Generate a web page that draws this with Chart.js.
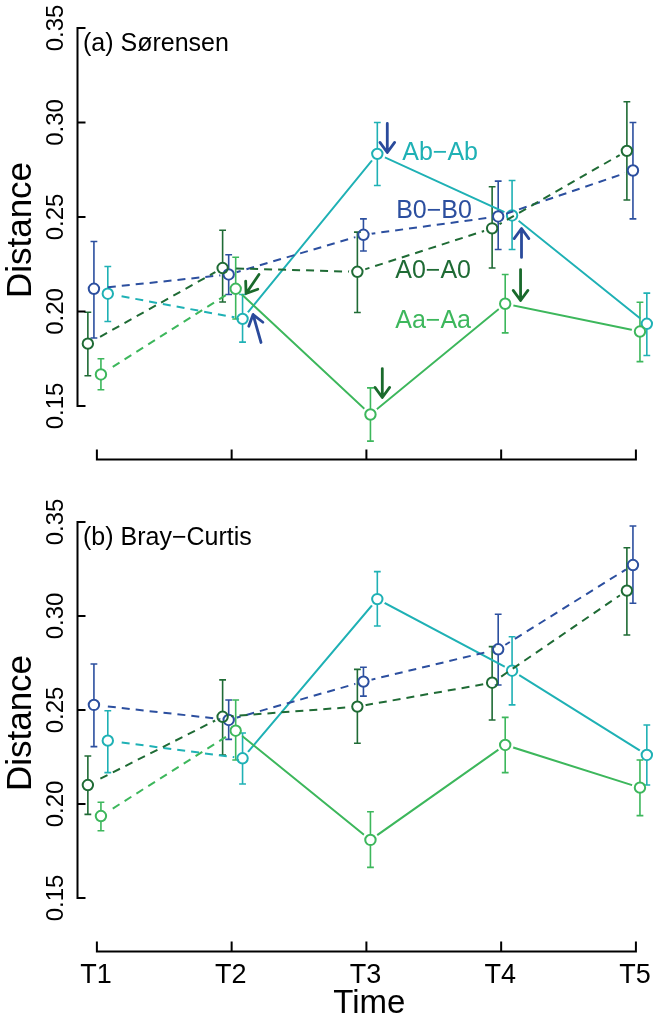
<!DOCTYPE html>
<html>
<head>
<meta charset="utf-8">
<script src="https://cdn.jsdelivr.net/npm/chart.js@4.4.1/dist/chart.umd.min.js"></script>
<style>
  html, body { margin: 0; padding: 0; background: #ffffff; }
  #wrap { position: relative; width: 664px; height: 1028px; }
  canvas { position: absolute; left: 0; }
  #cA { top: 0; }
  #cB { top: 494px; }
</style>
</head>
<body>
<div id="wrap">
  <canvas id="cA" width="664" height="494"></canvas>
  <canvas id="cB" width="664" height="534"></canvas>
</div>
<script>
// ---------------- data ----------------
const categories = ['T1', 'T2', 'T3', 'T4', 'T5'];
const yTickValues = [0.15, 0.20, 0.25, 0.30, 0.35];
const yTickLabels = ['0.15', '0.20', '0.25', '0.30', '0.35'];
const seriesNames = ['A0\u2212A0', 'B0\u2212B0', 'Aa\u2212Aa', 'Ab\u2212Ab'];

// (a) Sørensen
const sorA0 = [0.183, 0.223, 0.221, 0.244, 0.285];
const sorA0Lo = [0.166, 0.205, 0.1995, 0.223, 0.259];
const sorA0Hi = [0.1996, 0.243, 0.242, 0.266, 0.311];
const sorB0 = [0.212, 0.2196, 0.2406, 0.2503, 0.2746];
const sorB0Lo = [0.186, 0.209, 0.232, 0.2328, 0.249];
const sorB0Hi = [0.237, 0.230, 0.249, 0.269, 0.300];
const sorAa = [0.1667, 0.212, 0.1455, 0.2041, 0.1894];
const sorAaLo = [0.1586, 0.196, 0.1314, 0.1887, 0.1735];
const sorAaHi = [0.175, 0.2287, 0.1596, 0.2196, 0.2049];
const sorAb = [0.2094, 0.1961, 0.2834, 0.2508, 0.1935];
const sorAbLo = [0.1947, 0.1838, 0.2667, 0.2328, 0.1767];
const sorAbHi = [0.2238, 0.209, 0.300, 0.2693, 0.2097];

// (b) Bray-Curtis
const bcA0 = [0.2101, 0.2464, 0.2518, 0.2645, 0.3135];
const bcA0Lo = [0.1945, 0.226, 0.2323, 0.2447, 0.2899];
const bcA0Hi = [0.2255, 0.266, 0.2716, 0.2837, 0.3363];
const bcB0 = [0.2527, 0.2447, 0.2651, 0.2823, 0.3271];
const bcB0Lo = [0.2305, 0.2344, 0.2574, 0.2633, 0.3068];
const bcB0Hi = [0.2745, 0.2553, 0.2727, 0.3009, 0.3479];
const bcAa = [0.1936, 0.239, 0.1809, 0.2314, 0.2087];
const bcAaLo = [0.1858, 0.2234, 0.1663, 0.2167, 0.1938];
const bcAaHi = [0.2009, 0.2553, 0.1959, 0.2461, 0.2234];
const bcAb = [0.2337, 0.2243, 0.309, 0.2709, 0.2261];
const bcAbLo = [0.2167, 0.2106, 0.2947, 0.2527, 0.2101];
const bcAbHi = [0.2496, 0.2378, 0.3236, 0.289, 0.242];

// ---------------- style ----------------
const COL = { A0: '#1f6b35', B0: '#2c4f9f', Aa: '#3db75c', Ab: '#1fb1b5' };
const ARROW_BLUE = '#2a4a9b';
const ARROW_GREEN = '#1a6a2c';
const JITTER = { A0: -0.067, B0: -0.022, Aa: 0.030, Ab: 0.081 };
const DASH = [8, 6];
const FONT = '"Liberation Sans", Arial, Helvetica, sans-serif';
const PT_R = 5.2;
const GAP_R = 8.5;
const Y_MIN = 0.12, Y_MAX = 0.35;

function pts(key, means) {
  return means.map((v, i) => ({ x: i + 1 + JITTER[key], y: v }));
}

// each series: one line dataset (with R-style gaps at the points) + one point dataset
function makeSeries(key, label, means, lo, hi, allDashed) {
  const line = {
    label: label,
    data: pts(key, means),
    gapLine: true,
    borderColor: COL[key],
    borderWidth: 2,
    borderDash: allDashed ? DASH : [],
    segment: allDashed ? undefined : { borderDash: c => (c.p0DataIndex === 0 ? DASH : undefined) },
    pointRadius: 0,
    fill: false,
    tension: 0,
    clip: false
  };
  const points = {
    label: label + ' points',
    data: pts(key, means),
    errLo: lo, errHi: hi,
    showLine: false,
    borderColor: COL[key],
    pointRadius: PT_R,
    pointBorderWidth: 2,
    pointBackgroundColor: 'rgba(255,255,255,0)',
    pointBorderColor: COL[key],
    clip: false
  };
  return [line, points];
}

// error bars (drawn through the chart scales) and gap clipping for the lines
const errorBarPlugin = {
  id: 'errbars',
  beforeDatasetsDraw(chart) {
    const ctx = chart.ctx, xs = chart.scales.x, ys = chart.scales.y;
    chart.data.datasets.forEach(ds => {
      if (!ds.errLo) return;
      ctx.save();
      ctx.strokeStyle = ds.borderColor;
      ctx.lineWidth = 1.6;
      ds.data.forEach((p, i) => {
        const x = xs.getPixelForValue(p.x);
        const yc = ys.getPixelForValue(p.y);
        const y1 = ys.getPixelForValue(ds.errLo[i]);
        const y2 = ys.getPixelForValue(ds.errHi[i]);
        ctx.beginPath();
        ctx.moveTo(x, y1); ctx.lineTo(x, yc + PT_R);
        ctx.moveTo(x, yc - PT_R); ctx.lineTo(x, y2);
        ctx.moveTo(x - 3.4, y1); ctx.lineTo(x + 3.4, y1);
        ctx.moveTo(x - 3.4, y2); ctx.lineTo(x + 3.4, y2);
        ctx.stroke();
      });
      ctx.restore();
    });
  },
  beforeDatasetDraw(chart, args) {
    const ds = chart.data.datasets[args.index];
    if (!ds.gapLine) return;
    const ctx = chart.ctx, xs = chart.scales.x, ys = chart.scales.y;
    ctx.save();
    ctx.beginPath();
    ctx.rect(0, 0, chart.width, chart.height);
    ds.data.forEach(p => {
      const x = xs.getPixelForValue(p.x), y = ys.getPixelForValue(p.y);
      ctx.moveTo(x + GAP_R, y);
      ctx.arc(x, y, GAP_R, 0, Math.PI * 2);
    });
    ctx.clip('evenodd');
  },
  afterDatasetDraw(chart, args) {
    const ds = chart.data.datasets[args.index];
    if (ds.gapLine) chart.ctx.restore();
  }
};

// R-style axes drawn from the scales
function axesPlugin(opts) {
  return {
    id: 'raxes',
    afterDraw(chart) {
      const ctx = chart.ctx, xs = chart.scales.x, ys = chart.scales.y;
      ctx.save();
      ctx.strokeStyle = '#000';
      ctx.fillStyle = '#000';
      ctx.lineWidth = 2;
      ctx.lineCap = 'butt';
      // y axis
      const ax = chart.chartArea.left + 0.5;
      const yTop = ys.getPixelForValue(yTickValues[yTickValues.length - 1]);
      const yBot = ys.getPixelForValue(yTickValues[0]);
      ctx.beginPath();
      ctx.moveTo(ax, yTop - 1); ctx.lineTo(ax, yBot + 1);
      yTickValues.forEach(v => {
        const y = ys.getPixelForValue(v);
        ctx.moveTo(ax, y); ctx.lineTo(ax + 8, y);
      });
      ctx.stroke();
      ctx.font = '24px ' + FONT;
      ctx.textAlign = 'center';
      ctx.textBaseline = 'alphabetic';
      yTickValues.forEach((v, i) => {
        const y = ys.getPixelForValue(v);
        ctx.save();
        ctx.translate(63, y);
        ctx.rotate(-Math.PI / 2);
        ctx.fillText(yTickLabels[i], 0, 0);
        ctx.restore();
      });
      // y title
      ctx.save();
      ctx.font = '35px ' + FONT;
      ctx.translate(31, (yTop + yBot) / 2 + 13);
      ctx.rotate(-Math.PI / 2);
      ctx.fillText('Distance', 0, 0);
      ctx.restore();
      // x axis
      const lineY = yBot + 53.5;
      const x1 = xs.getPixelForValue(1), x5 = xs.getPixelForValue(categories.length);
      ctx.beginPath();
      ctx.moveTo(x1 - 1, lineY); ctx.lineTo(x5 + 1, lineY);
      categories.forEach((c, i) => {
        const x = xs.getPixelForValue(i + 1);
        ctx.moveTo(x, lineY); ctx.lineTo(x, lineY - 10);
      });
      ctx.stroke();
      if (opts.xLabels) {
        ctx.font = '27px ' + FONT;
        ctx.textAlign = 'center';
        categories.forEach((c, i) => {
          ctx.fillText(c, xs.getPixelForValue(i + 1) - 1, lineY + 31);
        });
        ctx.font = '33px ' + FONT;
        ctx.fillText('Time', xs.getPixelForValue(3) + 3, lineY + 61);
      }
      // panel title
      ctx.font = '25px ' + FONT;
      ctx.textAlign = 'left';
      ctx.fillText(opts.title, chart.chartArea.left + 6, yTop + 23);
      // series labels & arrows (data coordinates)
      (opts.labels || []).forEach(l => {
        ctx.fillStyle = l.color;
        ctx.fillText(l.text, xs.getPixelForValue(l.t), ys.getPixelForValue(l.v));
      });
      (opts.arrows || []).forEach(a => {
        const p1x = xs.getPixelForValue(a.t1), p1y = ys.getPixelForValue(a.v1);
        const p2x = xs.getPixelForValue(a.t2), p2y = ys.getPixelForValue(a.v2);
        const ang = Math.atan2(p2y - p1y, p2x - p1x);
        const hl = 12.5, ha = Math.PI / 5;
        ctx.strokeStyle = a.color;
        ctx.lineWidth = 2.8;
        ctx.lineCap = 'round';
        ctx.lineJoin = 'round';
        ctx.beginPath();
        ctx.moveTo(p1x, p1y); ctx.lineTo(p2x, p2y);
        ctx.moveTo(p2x - hl * Math.cos(ang - ha), p2y - hl * Math.sin(ang - ha));
        ctx.lineTo(p2x, p2y);
        ctx.lineTo(p2x - hl * Math.cos(ang + ha), p2y - hl * Math.sin(ang + ha));
        ctx.stroke();
      });
      ctx.restore();
    }
  };
}

function makeChart(id, bottomPad, sets, opts) {
  return new Chart(document.getElementById(id), {
    type: 'line',
    data: { datasets: sets },
    options: {
      responsive: false,
      animation: false,
      events: [],
      layout: { padding: { left: 77, top: 28, right: 4, bottom: bottomPad } },
      scales: {
        x: { type: 'linear', display: false, min: 0.8524, max: 5.155 },
        y: { type: 'linear', display: false, min: Y_MIN, max: Y_MAX }
      },
      plugins: { legend: { display: false }, tooltip: { enabled: false } }
    },
    plugins: [errorBarPlugin, axesPlugin(opts)]
  });
}

makeChart('cA', 31.3, [
  ...makeSeries('A0', seriesNames[0], sorA0, sorA0Lo, sorA0Hi, true),
  ...makeSeries('B0', seriesNames[1], sorB0, sorB0Lo, sorB0Hi, true),
  ...makeSeries('Aa', seriesNames[2], sorAa, sorAaLo, sorAaHi, false),
  ...makeSeries('Ab', seriesNames[3], sorAb, sorAbLo, sorAbHi, false)
], {
  title: '(a) S\u00f8rensen',
  xLabels: false,
  labels: [
    { text: seriesNames[3], t: 3.266, v: 0.2804, color: COL.Ab },
    { text: seriesNames[1], t: 3.221, v: 0.2497, color: COL.B0 },
    { text: seriesNames[0], t: 3.214, v: 0.2175, color: COL.A0 },
    { text: seriesNames[2], t: 3.214, v: 0.1915, color: COL.Aa }
  ],
  arrows: [
    { t1: 3.155, v1: 0.2995, t2: 3.155, v2: 0.2841, color: ARROW_BLUE },
    { t1: 2.218, v1: 0.1836, t2: 2.159, v2: 0.1984, color: ARROW_BLUE },
    { t1: 2.203, v1: 0.2196, t2: 2.107, v2: 0.2095, color: ARROW_GREEN },
    { t1: 3.118, v1: 0.1698, t2: 3.118, v2: 0.1545, color: ARROW_GREEN },
    { t1: 4.151, v1: 0.2286, t2: 4.151, v2: 0.2439, color: ARROW_BLUE },
    { t1: 4.144, v1: 0.2222, t2: 4.144, v2: 0.2058, color: ARROW_GREEN }
  ]
});

makeChart('cB', 73.6, [
  ...makeSeries('A0', seriesNames[0], bcA0, bcA0Lo, bcA0Hi, true),
  ...makeSeries('B0', seriesNames[1], bcB0, bcB0Lo, bcB0Hi, true),
  ...makeSeries('Aa', seriesNames[2], bcAa, bcAaLo, bcAaHi, false),
  ...makeSeries('Ab', seriesNames[3], bcAb, bcAbLo, bcAbHi, false)
], {
  title: '(b) Bray\u2212Curtis',
  xLabels: true
});
</script>
</body>
</html>
